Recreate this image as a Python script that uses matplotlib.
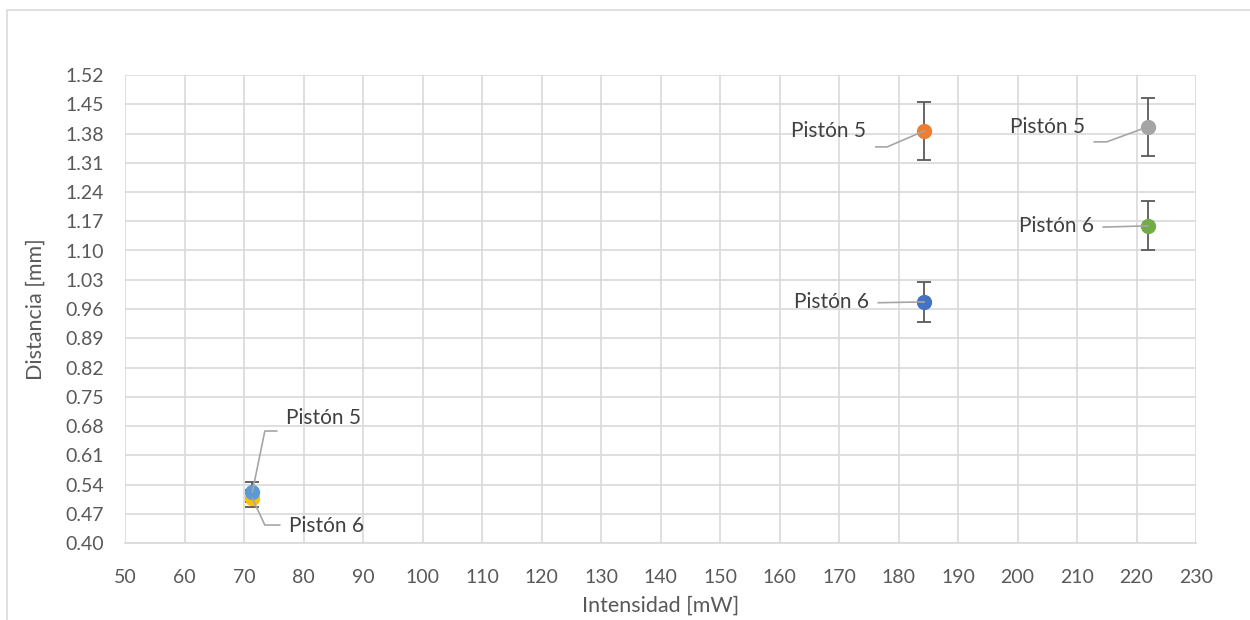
import numpy as np
import matplotlib
matplotlib.use("Agg")
from matplotlib import pyplot as plt
from matplotlib.patches import Rectangle

plt.rcParams['font.family'] = ['Lato', 'DejaVu Sans']

# Series data (Excel-like order)
series_names = ['Pistón 6', 'Pistón 5', 'Pistón 5', 'Pistón 6', 'Pistón 5', 'Pistón 6']
series_x = [184.3, 184.3, 221.9, 71.4, 71.4, 221.9]
series_y = [0.977, 1.386, 1.396, 0.507, 0.522, 1.159]
series_err = [0.048, 0.069, 0.070, 0.020, 0.024, 0.059]
series_colors = ['#4472C4', '#ED7D31', '#A5A5A5', '#FFC000', '#5B9BD5', '#70AD47']

# data label centres and leader lines (elbow, end)
label_pos = [(168.8, 0.977), (168.2, 1.386), (205.0, 1.396), (83.8, 0.440), (83.4, 0.698), (206.6, 1.159)]
leader_elbow = [(176.6, 0.975), (178.1, 1.348), (215.0, 1.360), (73.5, 0.443), (73.5, 0.668), (214.4, 1.156)]
leader_end = [(176.6, 0.975), (176.2, 1.348), (212.9, 1.360), (76.0, 0.443), (75.5, 0.668), (214.4, 1.156)]

x_ticks = np.arange(50, 231, 10)
y_ticks = np.round(np.arange(0.40, 1.53, 0.07), 2)

text_col = '#595959'
grid_col = '#D9D9D9'

fig = plt.figure(figsize=(12.5, 6.2), dpi=100)
fig.patches.append(Rectangle((7/1250, -0.1), 1.2, 1 - 10/620 + 0.1, transform=fig.transFigure,
                             fill=False, edgecolor=grid_col, linewidth=1.2))
ax = fig.add_axes([125/1250, 1 - 543/620, (1196-125)/1250, (543-75)/620])

for i in range(len(series_x)):
    ax.errorbar(series_x[i], series_y[i], yerr=series_err[i], fmt='o', color=series_colors[i],
                markersize=10, ecolor='#595959', elinewidth=1.3, capsize=5, capthick=1.3, zorder=3)
for i in range(len(series_x)):
    ex, ey = leader_elbow[i]
    fx, fy = leader_end[i]
    ax.plot([series_x[i], ex, fx], [series_y[i], ey, fy], color='#A6A6A6', lw=1.2, zorder=4)
    lx, ly = label_pos[i]
    ax.text(lx, ly, series_names[i], fontsize=15, color='#404040', ha='center', va='center', zorder=5)

ax.set_xlim(50, 230)
ax.set_ylim(0.40, 1.52)
ax.set_xticks(x_ticks)
ax.set_yticks(y_ticks)
ax.set_yticklabels(['%.2f' % v for v in y_ticks])
ax.grid(True, color=grid_col, linewidth=1.2)
ax.set_axisbelow(True)
for s in ax.spines.values():
    s.set_visible(False)
ax.spines['bottom'].set_visible(True)
ax.spines['bottom'].set_color(grid_col)
ax.spines['bottom'].set_linewidth(1.2)
ax.tick_params(axis='y', length=0, labelsize=14, colors=text_col, pad=15)
ax.tick_params(axis='x', length=0, labelsize=14, colors=text_col, pad=19)
ax.set_xlabel('Intensidad [mW]', fontsize=15.5, color=text_col, labelpad=7)
ax.set_ylabel('Distancia [mm]', fontsize=15.5, color=text_col, labelpad=14)

fig.savefig('out.png', dpi=100)
